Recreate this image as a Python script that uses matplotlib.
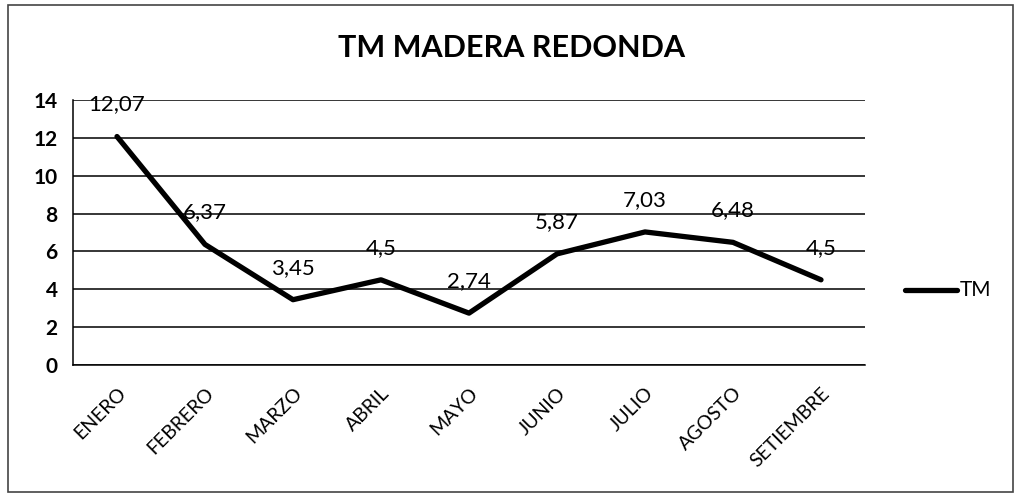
import matplotlib
matplotlib.use("Agg")
import matplotlib.pyplot as plt
from matplotlib.patches import Rectangle
from matplotlib.lines import Line2D

months = ["ENERO", "FEBRERO", "MARZO", "ABRIL", "MAYO", "JUNIO", "JULIO", "AGOSTO", "SETIEMBRE"]
tm_values = [12.07, 6.37, 3.45, 4.5, 2.74, 5.87, 7.03, 6.48, 4.5]
value_labels = ["12,07", "6,37", "3,45", "4,5", "2,74", "5,87", "7,03", "6,48", "4,5"]
y_ticks = [0, 2, 4, 6, 8, 10, 12, 14]

plt.rcParams['font.family'] = ['Lato', 'DejaVu Sans']

fig = plt.figure(figsize=(10.21, 5.04), dpi=100)
W, H = 1021, 504
ax = fig.add_axes([73 / W, 1 - 365 / H, (865 - 73) / W, (365 - 100) / H])

x = list(range(len(months)))
ax.plot(x, tm_values, color="black", lw=3.8, solid_capstyle="round", solid_joinstyle="round", zorder=3)

for xi, v, lab in zip(x, tm_values, value_labels):
    ax.annotate(lab, (xi, v), xytext=(0, 23), textcoords="offset points",
                ha="center", va="center", fontsize=16, color="black", zorder=4)

ax.set_xlim(-0.5, len(months) - 0.5)
ax.set_ylim(0, 14)
ax.set_yticks(y_ticks)
ax.set_yticklabels([str(t) for t in y_ticks], fontsize=15, fontweight="bold")
ax.set_xticks(x)
ax.set_xticklabels(months, rotation=45, ha="right", rotation_mode="anchor", fontsize=14)
ax.tick_params(axis="both", length=0)
ax.tick_params(axis="y", pad=11)
ax.tick_params(axis="x", pad=14)
ax.grid(axis="y", color="black", lw=1.1)
ax.set_axisbelow(True)
for side in ["top", "right"]:
    ax.spines[side].set_visible(False)
ax.spines["left"].set_linewidth(1.1)
ax.spines["bottom"].set_linewidth(1.1)

fig.text(511 / W, 1 - 48 / H, "TM MADERA REDONDA", ha="center", va="center",
         fontsize=22, fontweight="bold")

# legend entry on the right
fig.add_artist(Line2D([905 / W, 957 / W], [1 - 290 / H, 1 - 290 / H], color="black", lw=3.8,
                      solid_capstyle="round"))
fig.text(960 / W, 1 - 290 / H, "TM", ha="left", va="center", fontsize=15)

# outer chart border
fig.add_artist(Rectangle((8 / W, 1 - 492 / H), (1013 - 8) / W, (492 - 5) / H,
                         transform=fig.transFigure, fill=False, edgecolor="#444444", lw=1.2))

fig.savefig("out.png", dpi=100, facecolor="white")
